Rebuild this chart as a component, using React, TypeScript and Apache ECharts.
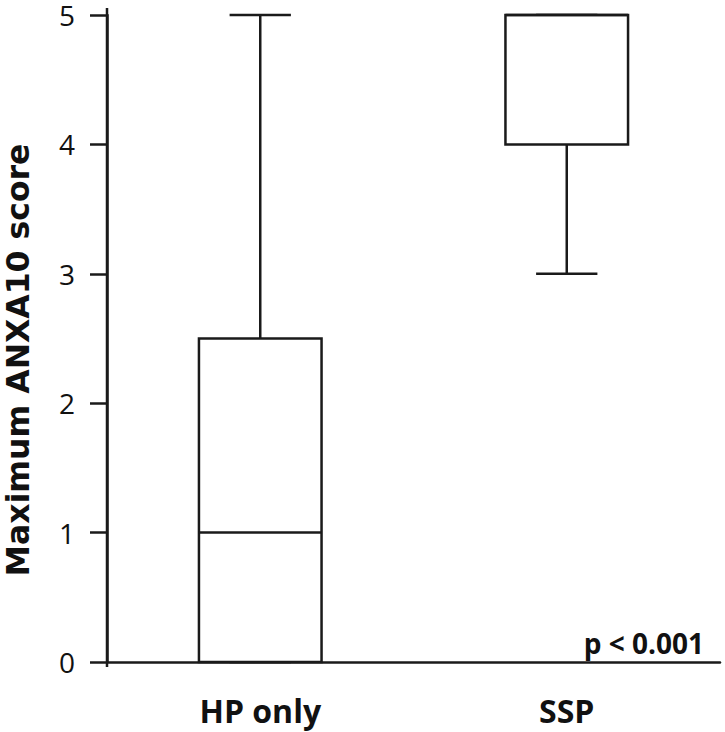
import React, { useEffect, useRef } from "react";
import * as echarts from "echarts";

const categories = ["HP only", "SSP"];
// [min, Q1, median, Q3, max]
const hpOnlyStats = [0, 0, 1, 2.5, 5];
const sspStats = [3, 4, 5, 5, 5];
const yMin = 0;
const yMax = 5;
const yInterval = 1;
const yAxisTitle = "Maximum ANXA10 score";
const pValueText = "p < 0.001";

const INK = "#1a1a1a";

export default function App() {
  const ref = useRef<HTMLDivElement>(null);
  useEffect(() => {
    const chart = echarts.init(ref.current!, null, { renderer: "svg" });
    const data = [hpOnlyStats, sspStats].map((s, i) => [i, ...s]);
    chart.setOption({
      animation: false,
      backgroundColor: "#ffffff",
      grid: { left: 107, right: 5, top: 15, bottom: 70 },
      xAxis: {
        type: "category",
        data: categories,
        offset: 4,
        axisLine: { lineStyle: { color: INK, width: 2.5 } },
        axisTick: { alignWithLabel: true, length: 15, lineStyle: { color: INK, width: 2.5 } },
        axisLabel: {
          color: "#111",
          fontFamily: "Open Sans",
          fontWeight: "bold",
          fontSize: 32,
          margin: 28,
        },
      },
      yAxis: {
        type: "value",
        min: yMin,
        max: yMax,
        interval: yInterval,
        axisLine: { show: true, lineStyle: { color: INK, width: 2.5 } },
        axisTick: { show: true, length: 17, lineStyle: { color: INK, width: 2.5 } },
        splitLine: { show: false },
        axisLabel: {
          color: "#111",
          fontFamily: "Open Sans",
          fontSize: 28,
          lineHeight: 22,
          padding: [4, 0, 0, 0],
          margin: 32,
        },
      },
      series: [
        {
          type: "custom",
          data,
          renderItem: (params: any, api: any) => {
            const x = api.value(0);
            const v = [1, 2, 3, 4, 5].map((d) => api.value(d));
            const pMin = api.coord([x, v[0]]);
            const pQ1 = api.coord([x, v[1]]);
            const pMed = api.coord([x, v[2]]);
            const pQ3 = api.coord([x, v[3]]);
            const pMax = api.coord([x, v[4]]);
            const bw = api.size([1, 0])[0] * 0.4;
            const cx = pMin[0];
            const ls = { stroke: INK, lineWidth: 2.5 };
            return {
              type: "group",
              children: [
                { type: "line", shape: { x1: cx, y1: pQ3[1], x2: cx, y2: pMax[1] }, style: ls },
                { type: "line", shape: { x1: cx - bw / 4, y1: pMax[1], x2: cx + bw / 4, y2: pMax[1] }, style: ls },
                { type: "line", shape: { x1: cx, y1: pQ1[1], x2: cx, y2: pMin[1] }, style: ls },
                { type: "line", shape: { x1: cx - bw / 4, y1: pMin[1], x2: cx + bw / 4, y2: pMin[1] }, style: ls },
                {
                  type: "rect",
                  shape: { x: cx - bw / 2, y: pQ3[1], width: bw, height: pQ1[1] - pQ3[1] },
                  style: { fill: "#ffffff", stroke: INK, lineWidth: 2.5 },
                },
                { type: "line", shape: { x1: cx - bw / 2, y1: pMed[1], x2: cx + bw / 2, y2: pMed[1] }, style: ls },
              ],
            };
          },
        },
      ],
      graphic: [
        {
          type: "line",
          shape: { x1: 107, y1: 8, x2: 107, y2: 667 },
          style: { stroke: INK, lineWidth: 2.5 },
        },
        {
          type: "text",
          x: 18,
          y: 360,
          rotation: Math.PI / 2,
          style: {
            text: yAxisTitle,
            fill: "#111",
            font: "bold 31.5px 'DejaVu Sans'",
            textAlign: "center",
            textVerticalAlign: "middle",
          },
        },
        {
          type: "text",
          x: 704,
          y: 643,
          style: {
            text: pValueText,
            fill: "#111",
            font: "bold 28px 'Open Sans'",
            textAlign: "right",
            textVerticalAlign: "middle",
          },
        },
      ],
    });
    return () => chart.dispose();
  }, []);
  return (
    <div
      ref={ref}
      style={{ position: "fixed", left: 0, top: 0, width: 725, height: 732 }}
    />
  );
}
